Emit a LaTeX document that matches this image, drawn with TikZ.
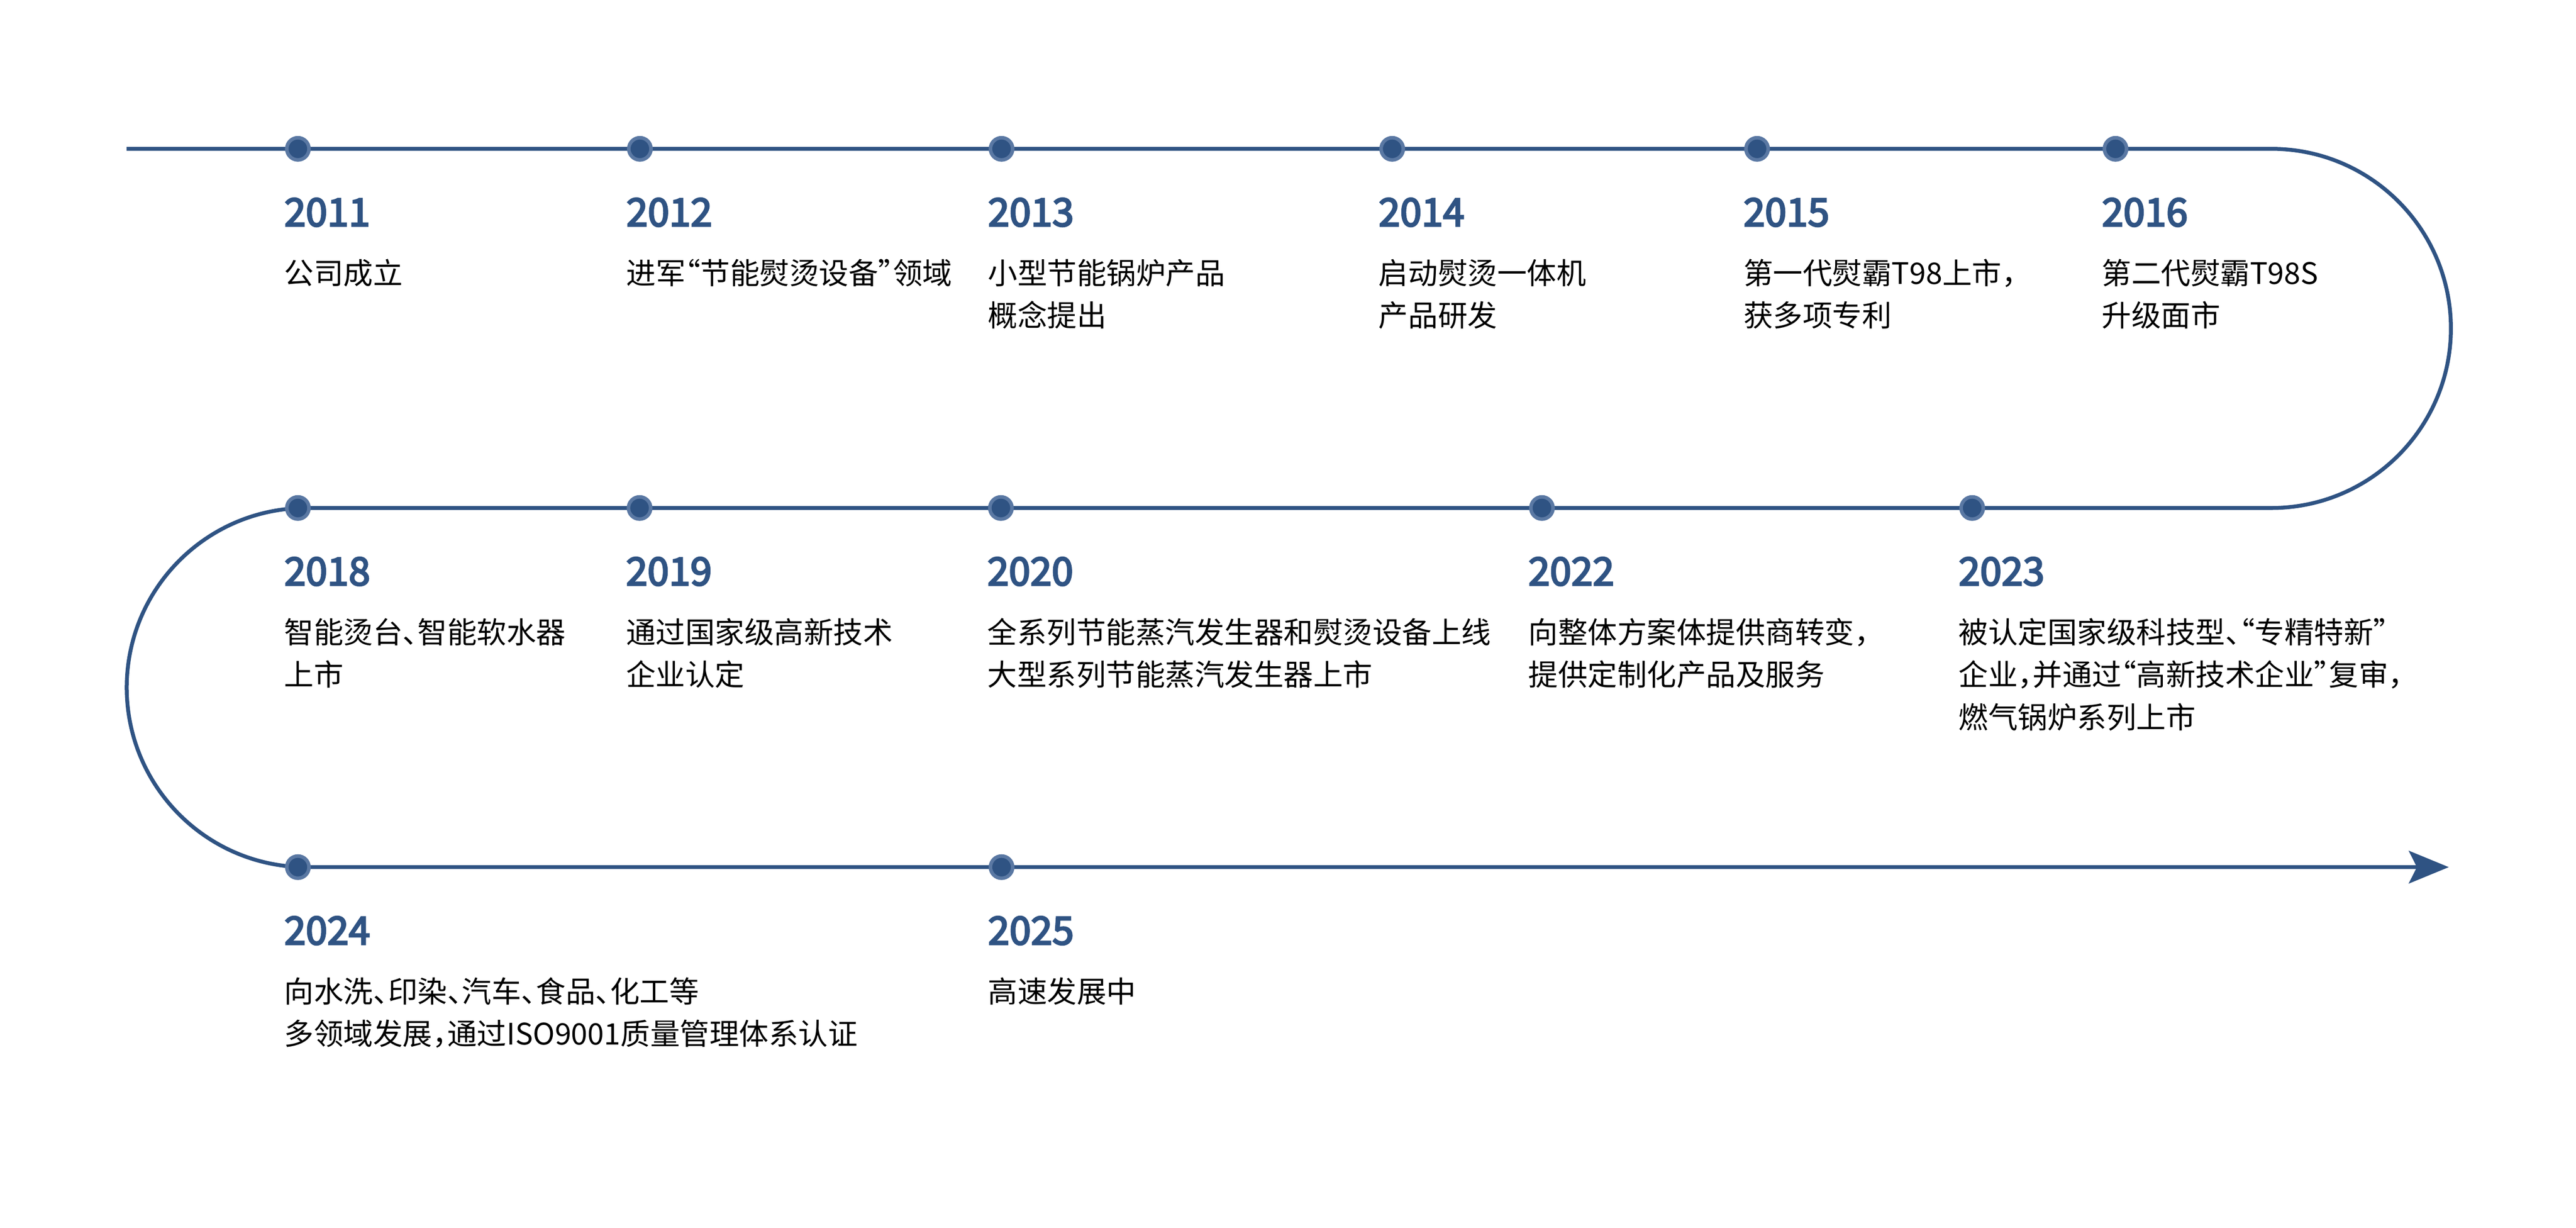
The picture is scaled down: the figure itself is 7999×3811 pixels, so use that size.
\documentclass[tikz,border=0pt]{standalone}
\usepackage{fontspec}
\setmainfont{Noto Sans CJK SC}
\newfontfamily\descfont{Noto Sans CJK SC}[RawFeature=+halt]
\newfontfamily\yearfont{Noto Sans CJK SC}[FakeBold=4]
\usetikzlibrary{arrows.meta}
\definecolor{tlblue}{HTML}{2F5383}
\definecolor{tlring}{HTML}{5A78A3}
\tikzset{
  tline/.style={draw=tlblue, line width=1.2pt},
  dotnode/.style={circle, fill=tlblue, draw=tlring, line width=1.1pt, minimum size=6.9pt, inner sep=0pt},
  yearlabel/.style={anchor=base west, inner sep=0pt, text=tlblue, font=\yearfont\fontsize{12pt}{12pt}\selectfont},
  desclabel/.style={anchor=base west, inner sep=0pt, text=black, font=\descfont\fontsize{9.2pt}{13.2pt}\selectfont}
}
\begin{document}
\begin{tikzpicture}[x=0.1pt,y=-0.1pt]
\useasboundingbox (0,0) rectangle (7999,3811);
% timeline path
\coordinate (start) at (393,462);
\coordinate (r1) at (7053,462);
\coordinate (l1) at (951,1577);
\coordinate (tip) at (7604,2692);
\draw[tline,-{Stealth[length=12.4pt,width=10.1pt,inset=2.5pt]}]
  (start) -- (r1) arc[start angle=-90,end angle=90,radius=557.5]
  -- (l1) arc[start angle=270,end angle=90,radius=557.5] -- (tip);
% dots
\node[dotnode] (d11) at (925,462) {};
\node[dotnode] (d12) at (1987,462) {};
\node[dotnode] (d13) at (3110,462) {};
\node[dotnode] (d14) at (4323,462) {};
\node[dotnode] (d15) at (5456,462) {};
\node[dotnode] (d16) at (6569,462) {};
\node[dotnode] (d18) at (925,1577) {};
\node[dotnode] (d19) at (1986,1577) {};
\node[dotnode] (d20) at (3108,1577) {};
\node[dotnode] (d22) at (4788,1577) {};
\node[dotnode] (d23) at (6124,1577) {};
\node[dotnode] (d24) at (925,2692) {};
\node[dotnode] (d25) at (3110,2692) {};
% row 1
\node[yearlabel] (y11) at (881,702) {2011};
\node[desclabel] (t11a) at (881,882) {公司成立};
\node[yearlabel] (y12) at (1943,702) {2012};
\node[desclabel] (t12a) at (1943,882) {进军“节能熨烫设备”领域};
\node[yearlabel] (y13) at (3066,702) {2013};
\node[desclabel] (t13a) at (3066,882) {小型节能锅炉产品};
\node[desclabel] (t13b) at (3066,1014) {概念提出};
\node[yearlabel] (y14) at (4279,702) {2014};
\node[desclabel] (t14a) at (4279,882) {启动熨烫一体机};
\node[desclabel] (t14b) at (4279,1014) {产品研发};
\node[yearlabel] (y15) at (5412,702) {2015};
\node[desclabel] (t15a) at (5412,882) {第一代熨霸T98上市，};
\node[desclabel] (t15b) at (5412,1014) {获多项专利};
\node[yearlabel] (y16) at (6525,702) {2016};
\node[desclabel] (t16a) at (6525,882) {第二代熨霸T98S};
\node[desclabel] (t16b) at (6525,1014) {升级面市};
% row 2
\node[yearlabel] (y18) at (881,1817) {2018};
\node[desclabel] (t18a) at (881,1997) {智能烫台、智能软水器};
\node[desclabel] (t18b) at (881,2129) {上市};
\node[yearlabel] (y19) at (1942,1817) {2019};
\node[desclabel] (t19a) at (1942,1997) {通过国家级高新技术};
\node[desclabel] (t19b) at (1942,2129) {企业认定};
\node[yearlabel] (y20) at (3064,1817) {2020};
\node[desclabel] (t20a) at (3064,1997) {全系列节能蒸汽发生器和熨烫设备上线};
\node[desclabel] (t20b) at (3064,2129) {大型系列节能蒸汽发生器上市};
\node[yearlabel] (y22) at (4744,1817) {2022};
\node[desclabel] (t22a) at (4744,1997) {向整体方案体提供商转变，};
\node[desclabel] (t22b) at (4744,2129) {提供定制化产品及服务};
\node[yearlabel] (y23) at (6080,1817) {2023};
\node[desclabel] (t23a) at (6080,1997) {被认定国家级科技型、“专精特新”};
\node[desclabel] (t23b) at (6080,2129) {企业，并通过“高新技术企业”复审，};
\node[desclabel] (t23c) at (6080,2261) {燃气锅炉系列上市};
% row 3
\node[yearlabel] (y24) at (881,2932) {2024};
\node[desclabel] (t24a) at (881,3112) {向水洗、印染、汽车、食品、化工等};
\node[desclabel] (t24b) at (881,3244) {多领域发展，通过ISO9001质量管理体系认证};
\node[yearlabel] (y25) at (3066,2932) {2025};
\node[desclabel] (t25a) at (3066,3112) {高速发展中};
\end{tikzpicture}
\end{document}
